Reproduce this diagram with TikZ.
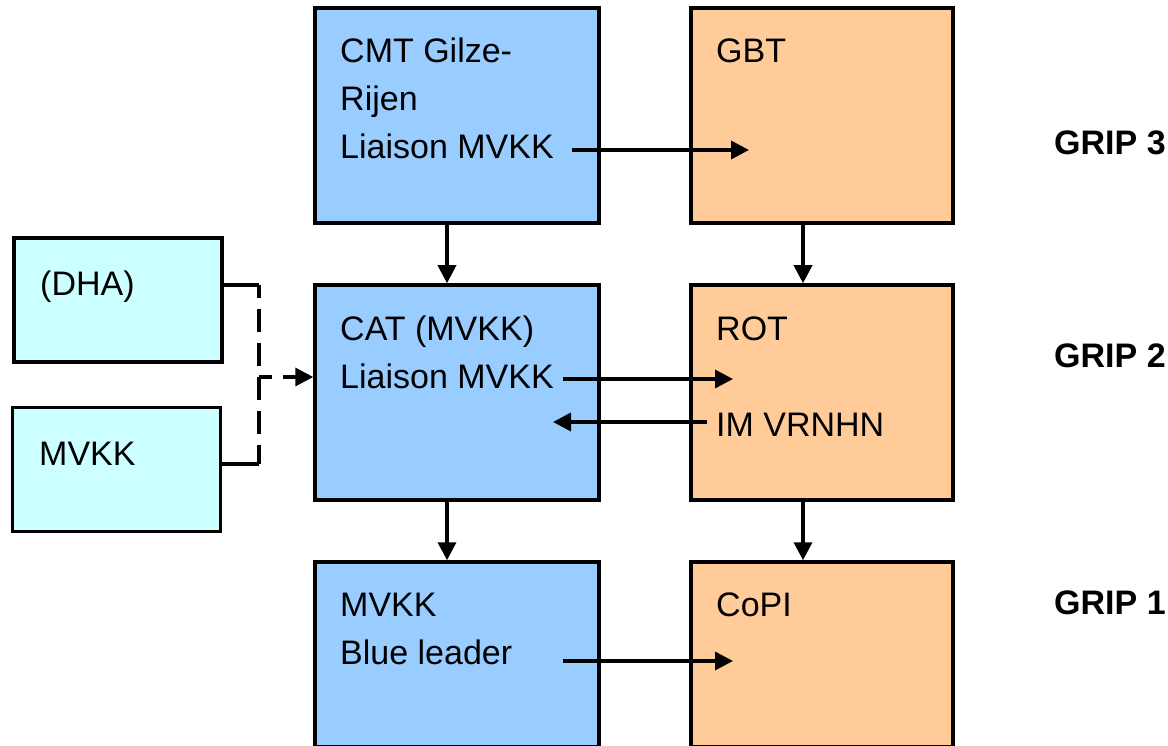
\documentclass[tikz,border=0pt]{standalone}
\usepackage{fontspec}
\setmainfont{Liberation Sans}
\usepackage{xcolor}
\usepackage{tikz}
\usetikzlibrary{arrows.meta}

\definecolor{gripblue}{HTML}{99CCFF}
\definecolor{griporange}{HTML}{FFCC99}
\definecolor{gripcyan}{HTML}{CCFFFF}

\tikzset{
  box/.style={draw, line width=3.5pt, inner sep=0pt},
  bluebox/.style={box, fill=gripblue, minimum width=284pt},
  orangebox/.style={box, fill=griporange, minimum width=262pt},
  cyanbox/.style={box, fill=gripcyan, minimum width=208pt, minimum height=124pt},
  txt/.style={anchor=base west, inner sep=0pt, align=left, font=\fontsize{34pt}{48pt}\selectfont},
  griptxt/.style={txt, font=\fontsize{34pt}{48pt}\selectfont\bfseries},
  flow/.style={line width=3.5pt, -{Triangle[length=18pt,width=18pt]}},
  link/.style={line width=3.5pt},
}

\begin{document}
\begin{tikzpicture}[x=1pt,y=-1pt]
    \useasboundingbox (0,0) rectangle (1168,746);
    \node[bluebox, minimum height=215pt] (cmt) at (457,115.5) {};
    \node[bluebox, minimum height=215pt] (cat) at (457,392.5) {};
    \node[bluebox, minimum height=185pt] (blue) at (457,654.5) {};
    \node[orangebox, minimum height=215pt] (gbt) at (822,115.5) {};
    \node[orangebox, minimum height=215pt] (rot) at (822,392.5) {};
    \node[orangebox, minimum height=185pt] (copi) at (822,654.5) {};
    \node[cyanbox] (dha) at (118,300) {};
    \node[cyanbox] (mvkk) at (116.5,469.5) {};

    \node[txt] (cmt text) at (340,159) {CMT Gilze-\\Rijen\\Liaison MVKK};
    \node[txt] (gbt text) at (716,63) {GBT};
    \node[txt] (cat text) at (340,388) {CAT (MVKK)\\Liaison MVKK};
    \node[txt] (rot text) at (716,340) {ROT};
    \node[txt] (im text) at (716,436) {IM VRNHN};
    \node[txt] (blue text) at (340,664) {MVKK\\Blue leader};
    \node[txt] (copi text) at (716,616) {CoPI};
    \node[txt] (dha text) at (40,295) {(DHA)};
    \node[txt] (mvkk text) at (39,465) {MVKK};
    \node[griptxt] (grip3) at (1054,155) {GRIP 3};
    \node[griptxt] (grip2) at (1054,367) {GRIP 2};
    \node[griptxt] (grip1) at (1054,614) {GRIP 1};

    \coordinate (cmt out) at (572,150);
    \coordinate (gbt in) at (749,150);
    \coordinate (cat out) at (563,379);
    \coordinate (rot in) at (733,379);
    \coordinate (rot out) at (707,422);
    \coordinate (cat in) at (553,422);
    \coordinate (blue out) at (563,661);
    \coordinate (copi in) at (733,661);
    \coordinate (join top) at (259,285);
    \coordinate (join mid) at (259,377);
    \coordinate (join bot) at (259,464);

    \draw[flow] ([xshift=-10pt]cmt.south) -- ([xshift=-10pt]cat.north);
    \draw[flow] ([xshift=-10pt]cat.south) -- ([xshift=-10pt]blue.north);
    \draw[flow] ([xshift=-19pt]gbt.south) -- ([xshift=-19pt]rot.north);
    \draw[flow] ([xshift=-19pt]rot.south) -- ([xshift=-19pt]copi.north);
    \draw[flow] (cmt out) -- (gbt in);
    \draw[flow] (cat out) -- (rot in);
    \draw[flow] (rot out) -- (cat in);
    \draw[flow] (blue out) -- (copi in);

    \draw[link] ([yshift=15pt]dha.east) -- (join top);
    \draw[link] ([yshift=5.5pt]mvkk.east) -- (join bot);
    \draw[link, dash pattern=on 23pt off 11pt, dash phase=10pt] (join top) -- (join bot);
    \draw[flow, dash pattern=on 13pt off 11pt] (join mid) -- ([yshift=15.5pt]cat.west);
\end{tikzpicture}
\end{document}
